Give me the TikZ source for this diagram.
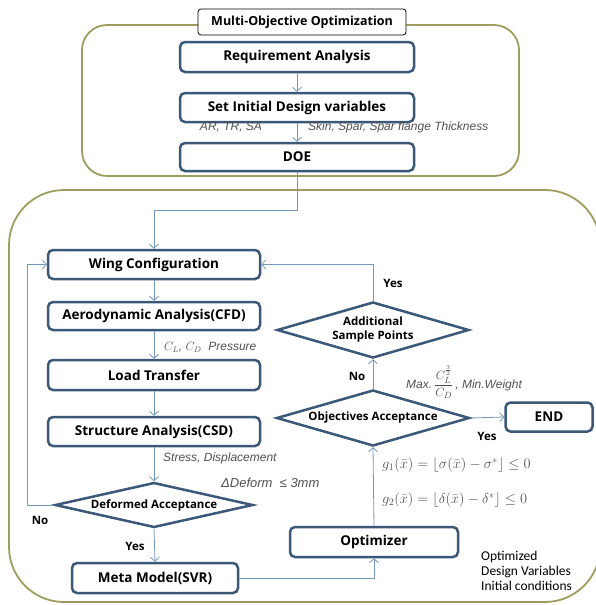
\documentclass[tikz,border=0pt]{standalone}
\usepackage{fontspec}
\usepackage{amsmath}
\setmainfont{Open Sans}
\newfontfamily\labfont{Liberation Sans}
\newfontfamily\notefont{Carlito}
\usetikzlibrary{arrows.meta,shapes.geometric}
\definecolor{frameol}{HTML}{9E9C5E}
\definecolor{boxbd}{HTML}{3B5878}
\definecolor{conn}{HTML}{7497BC}
\definecolor{labgray}{HTML}{505050}
\begin{document}
\begin{tikzpicture}[x=1pt,y=-1pt,
  frame/.style={draw=frameol, line width=1.8pt},
  box/.style={draw=boxbd, line width=2.5pt, rounded corners=5pt, fill=white,
    minimum width=#1, minimum height=29pt, inner sep=0pt,
    font=\bfseries\fontsize{13.5}{15}\selectfont},
  dia/.style={diamond, draw=boxbd, line width=2.5pt, fill=white, inner sep=0pt,
    align=center, font=\bfseries\fontsize{11.5}{14}\selectfont},
  arr/.style={draw=conn, line width=0.8pt, -{Straight Barb[length=4pt,width=9pt,line width=0.8pt]}},
  lab/.style={text=labgray, font=\labfont\itshape\fontsize{12}{14}\selectfont, inner sep=1pt},
  yn/.style={font=\bfseries\fontsize{11.5}{13}\selectfont, inner sep=1pt},
  note/.style={font=\notefont\fontsize{13.5}{15}\selectfont, align=left, inner sep=0pt},
  eqn/.style={anchor=west, text=labgray, font=\fontsize{14}{16}\selectfont, inner sep=0pt}
]
\useasboundingbox (0,0) rectangle (596,605);
\begin{scope}
\clip (0,0) rectangle (596,605);
\draw[frame, rounded corners=25pt] (82,25) rectangle (519,176);
\draw[frame, rounded corners=55pt] (9,190) rectangle (600,602);
\end{scope}

% top group
\node[draw=black, line width=0.8pt, rounded corners=3pt, fill=white, minimum width=208pt,
  minimum height=26pt, inner sep=0pt, font=\bfseries\fontsize{12.5}{14}\selectfont] (title) at (302,22) {Multi-Objective Optimization};
\node[box=234pt, minimum height=30pt] (req) at (297,57) {Requirement Analysis};
\node[box=234pt] (set) at (297,107.5) {Set Initial Design variables};
\node[box=234pt, minimum height=28pt] (doe) at (297,157) {DOE};

% bottom group
\node[box=212pt] (wing) at (154,264.5) {Wing Configuration};
\node[box=212pt, minimum height=28pt] (aero) at (154,316) {Aerodynamic Analysis(CFD)};
\node[box=212pt, minimum height=30pt] (load) at (154,375) {Load Transfer};
\node[box=212pt] (struct) at (154,431.5) {Structure Analysis(CSD)};
\node[dia, aspect=4.4, minimum width=198pt, minimum height=45pt] (deform) at (154,505) {Deformed Acceptance};
\node[box=166pt, minimum height=30pt] (meta) at (155,578) {Meta Model(SVR)};
\node[box=168pt, minimum height=30pt] (optim) at (374,542) {Optimizer};
\node[dia, aspect=3.4, minimum width=193pt, minimum height=56pt] (obj) at (373,418) {Objectives Acceptance};
\node[dia, aspect=3.4, minimum width=192pt, minimum height=56pt] (add) at (373,330) {Additional\\Sample Points};
\node[box=87pt] (end) at (549,417) {END};

% connectors
\coordinate (j1) at (297,210);
\coordinate (j2) at (27,505);
\draw[arr] (req) -- (set);
\draw[arr] (set) -- (doe);
\draw[arr] (doe.south) -- (j1) -| (wing.north);
\draw[arr] (wing) -- (aero);
\draw[arr] (aero) -- (load);
\draw[arr] (load) -- (struct);
\draw[arr] (struct.south) -- (deform.north);
\draw[arr] (deform.west) -- (j2) |- (wing.west);
\draw[arr] (deform.south) -- (meta.north);
\draw[arr] (meta.east) -| (optim.south);
\draw[arr] (optim.north) -- (obj.south);
\draw[arr] (obj.north) -- (add.south);
\draw[arr] (obj.east) -- (end.west);
\draw[arr] (add.north) |- (wing.east);

% labels
\node[lab] (l1) at (231,127) {AR, TR, SA};
\node[lab, anchor=west] (l2) at (307,127) {Skin, Spar, Spar flange Thickness};
\node[lab, anchor=west] (l3) at (163,347) {$C_L$, $C_D$\ \ Pressure};
\node[lab, anchor=west] (l4) at (162,458) {Stress, Displacement};
\node[lab, anchor=west, font=\labfont\itshape\fontsize{13}{15}\selectfont] (l5) at (220,483) {ΔDeform \ ≤ 3mm};
\node[yn] (n1) at (40,520) {No};
\node[yn] (y1) at (135,546) {Yes};
\node[yn] (y2) at (393,283) {Yes};
\node[yn] (n2) at (357,376) {No};
\node[yn] (y3) at (487,436) {Yes};
\node[lab, anchor=west] (mx) at (405,382) {Max.\,{\fontsize{13}{15}\selectfont$\dfrac{C_L^{\frac{3}{2}}}{C_D}$}\,, Min.Weight};
\node[eqn] (g1) at (382,465)
  {$g_1(\bar{x}) = \left\lfloor \sigma(\bar{x}) - \sigma^{*} \right\rfloor \le 0$};
\node[eqn] (g2) at (382,500)
  {$g_2(\bar{x}) = \left\lfloor \delta(\bar{x}) - \delta^{*} \right\rfloor \le 0$};
\node[note, anchor=north west] (opt) at (481,551) {Optimized\\Design Variables\\Initial conditions};
\end{tikzpicture}
\end{document}
